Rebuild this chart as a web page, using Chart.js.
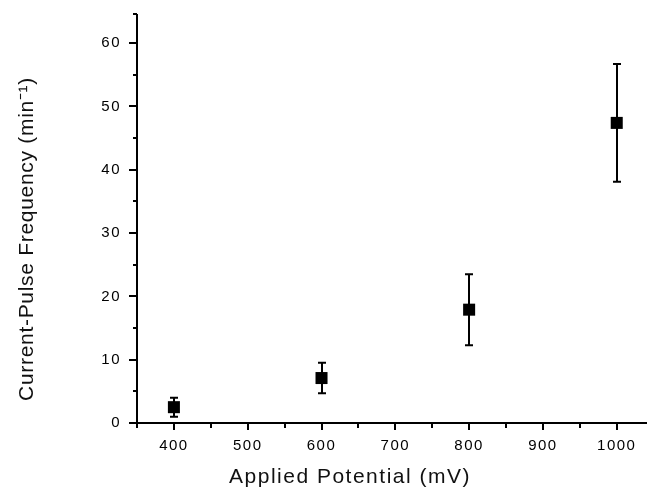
<!DOCTYPE html>
<html>
<head>
<meta charset="utf-8">
<script src="https://cdn.jsdelivr.net/npm/chart.js@4.4.1/dist/chart.umd.min.js"></script>
<style>
  html, body { margin: 0; padding: 0; background: #fff; }
  #wrap { width: 647px; height: 491px; }
</style>
</head>
<body>
<div id="wrap"><canvas id="myChart" width="647" height="491"></canvas></div>
<script>
// values
const potentials = [400, 600, 800, 1000];
const frequency = [2.5, 7.1, 17.9, 47.4];
const errors = [1.5, 2.4, 5.6, 9.3];

const xTickLabels = [400, 500, 600, 700, 800, 900, 1000];
const xMinorTicks = [350, 450, 550, 650, 750, 850, 950];
const yTickLabels = [0, 10, 20, 30, 40, 50, 60];
const yMinorTicks = [5, 15, 25, 35, 45, 55];

const xTitle = "Applied Potential (mV)";
const yTitle = "Current-Pulse Frequency (min\u207B\u00B9)";

const axesPlugin = {
  id: "axesPlugin",
  beforeDatasetsDraw(chart) {
    const ctx = chart.ctx;
    const xs = chart.scales.x;
    const ys = chart.scales.y;
    ctx.save();
    ctx.strokeStyle = "#000";
    ctx.lineWidth = 2;
    // error bars
    potentials.forEach((p, i) => {
      const x = Math.round(xs.getPixelForValue(p));
      const top = ys.getPixelForValue(frequency[i] + errors[i]);
      const bot = ys.getPixelForValue(frequency[i] - errors[i]);
      ctx.beginPath();
      ctx.moveTo(x, top);
      ctx.lineTo(x, bot);
      ctx.moveTo(x - 4, top);
      ctx.lineTo(x + 4, top);
      ctx.moveTo(x - 4, bot);
      ctx.lineTo(x + 4, bot);
      ctx.stroke();
    });
    ctx.restore();
  },
  afterDraw(chart) {
    const ctx = chart.ctx;
    const xs = chart.scales.x;
    const ys = chart.scales.y;
    const area = chart.chartArea;
    ctx.save();
    ctx.strokeStyle = "#000";
    ctx.lineWidth = 2;
    // axis lines
    ctx.beginPath();
    ctx.moveTo(area.left, area.top);
    ctx.lineTo(area.left, area.bottom);
    ctx.lineTo(area.right, area.bottom);
    ctx.stroke();

    // x ticks
    ctx.beginPath();
    xTickLabels.forEach(v => {
      const x = Math.round(xs.getPixelForValue(v));
      ctx.moveTo(x, area.bottom);
      ctx.lineTo(x, area.bottom + 7);
    });
    xMinorTicks.forEach(v => {
      const x = Math.round(xs.getPixelForValue(v));
      ctx.moveTo(x, area.bottom);
      ctx.lineTo(x, area.bottom + 5);
    });
    // y ticks
    yTickLabels.forEach(v => {
      const y = Math.round(ys.getPixelForValue(v));
      ctx.moveTo(area.left, y);
      ctx.lineTo(area.left - 8, y);
    });
    yMinorTicks.concat([ys.max]).forEach(v => {
      const y = Math.round(ys.getPixelForValue(v));
      ctx.moveTo(area.left, y);
      ctx.lineTo(area.left - 4, y);
    });
    ctx.stroke();

    // tick labels
    ctx.fillStyle = "#000";
    ctx.font = "15px 'Liberation Sans'";
    ctx.letterSpacing = "1.5px";
    ctx.textAlign = "center";
    ctx.textBaseline = "middle";
    xTickLabels.forEach(v => {
      ctx.fillText(String(v), xs.getPixelForValue(v), area.bottom + 23);
    });
    ctx.textAlign = "right";
    yTickLabels.forEach(v => {
      ctx.fillText(String(v), area.left - 16, ys.getPixelForValue(v));
    });

    // axis titles
    ctx.fillStyle = "#111";
    ctx.font = "21px 'Liberation Sans'";
    ctx.letterSpacing = "1.5px";
    ctx.textAlign = "center";
    ctx.textBaseline = "alphabetic";
    ctx.fillText(xTitle, 350, 483);
    ctx.letterSpacing = "0.7px";
    ctx.translate(33, 239);
    ctx.rotate(-Math.PI / 2);
    ctx.fillText(yTitle, 0, 0);
    ctx.restore();
  }
};

new Chart(document.getElementById("myChart"), {
  type: "scatter",
  data: {
    datasets: [{
      label: "Frequency",
      data: potentials.map((p, i) => ({ x: p, y: frequency[i] })),
      pointStyle: "rect",
      pointRadius: 8.5,
      pointHoverRadius: 8.5,
      backgroundColor: "#000",
      borderColor: "#000",
      borderWidth: 0
    }]
  },
  options: {
    responsive: false,
    animation: false,
    devicePixelRatio: 1,
    layout: { autoPadding: false, padding: { left: 137, top: 14, right: 0, bottom: 68 } },
    plugins: {
      legend: { display: false },
      tooltip: { enabled: false }
    },
    scales: {
      x: { type: "linear", min: 350, max: 1041, display: false },
      y: { type: "linear", min: 0, max: 64.6, display: false }
    }
  },
  plugins: [axesPlugin]
});
</script>
</body>
</html>
